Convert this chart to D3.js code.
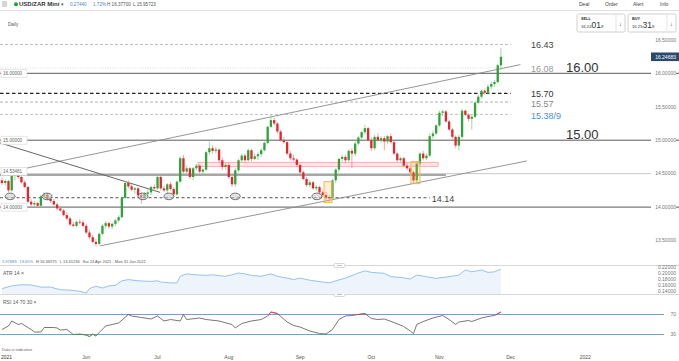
<!DOCTYPE html>
<meta charset="utf-8">
<style>
body { margin: 0; background: #fff; }
svg { display: block; font-family: "Liberation Sans", Arial, sans-serif; }
.small { font-size: 5px; fill: #555; }
.ytick { font-size: 5px; fill: #777; }
</style>
<svg width="679" height="361"></svg>
<script src="https://cdn.jsdelivr.net/npm/d3@7"></script>
<script>

// ---- data ----
const firstDay = "2021-04-26";   // first visible candle, trading days only
const nDays = 201;               // visible span runs to 31 Jan 2022

// open, high, low, close per trading day
const candles = [
[14.40,14.44,14.33,14.36],[14.36,14.42,14.32,14.39],[14.39,14.41,14.22,14.25],[14.25,14.50,14.23,14.47],[14.47,14.52,14.40,14.49],
[14.49,14.52,14.42,14.45],[14.45,14.48,14.35,14.37],[14.37,14.40,14.28,14.30],[14.30,14.32,14.06,14.08],[14.08,14.12,14.01,14.04],
[14.04,14.09,14.00,14.06],[14.06,14.08,14.00,14.02],[14.02,14.18,14.00,14.16],[14.16,14.22,14.12,14.19],[14.19,14.21,14.10,14.12],
[14.12,14.16,14.06,14.09],[14.09,14.12,14.02,14.04],[14.04,14.07,13.95,13.98],[13.98,14.01,13.93,13.95],[13.95,13.97,13.86,13.88],
[13.88,13.92,13.80,13.83],[13.83,13.86,13.72,13.74],[13.74,13.78,13.70,13.72],[13.72,13.80,13.70,13.78],[13.78,13.82,13.74,13.77],
[13.77,13.80,13.70,13.72],[13.72,13.75,13.60,13.62],[13.62,13.66,13.52,13.55],[13.55,13.58,13.46,13.48],[13.48,13.52,13.41,13.45],
[13.45,13.62,13.43,13.60],[13.60,13.75,13.58,13.72],[13.72,13.79,13.68,13.76],[13.76,13.78,13.68,13.71],[13.71,13.77,13.67,13.75],
[13.75,13.82,13.72,13.80],[13.80,13.88,13.77,13.85],[13.85,14.17,13.83,14.14],[14.14,14.40,14.12,14.36],[14.36,14.40,14.28,14.31],
[14.31,14.34,14.24,14.26],[14.26,14.30,14.20,14.28],[14.28,14.30,14.16,14.18],[14.18,14.22,14.05,14.14],[14.14,14.22,14.12,14.20],
[14.20,14.26,14.16,14.22],[14.22,14.32,14.18,14.30],[14.30,14.34,14.24,14.28],[14.28,14.48,14.26,14.45],[14.45,14.47,14.25,14.28],
[14.28,14.32,14.22,14.25],[14.25,14.36,14.20,14.34],[14.34,14.38,14.25,14.27],[14.27,14.30,14.16,14.19],[14.19,14.40,14.17,14.38],
[14.38,14.76,14.36,14.73],[14.73,14.78,14.50,14.53],[14.53,14.62,14.50,14.58],[14.58,14.60,14.42,14.45],[14.45,14.60,14.40,14.58],
[14.58,14.65,14.55,14.62],[14.62,14.64,14.50,14.53],[14.53,14.58,14.48,14.56],[14.56,14.84,14.54,14.82],[14.82,14.98,14.78,14.88],
[14.88,14.92,14.80,14.84],[14.84,14.90,14.80,14.86],[14.86,14.88,14.66,14.70],[14.70,14.74,14.56,14.60],[14.60,14.66,14.56,14.63],
[14.63,14.66,14.42,14.45],[14.45,14.48,14.30,14.34],[14.34,14.58,14.30,14.55],[14.55,14.72,14.52,14.70],[14.70,14.80,14.66,14.77],
[14.77,14.80,14.66,14.70],[14.70,14.88,14.68,14.85],[14.85,14.87,14.68,14.72],[14.72,14.80,14.70,14.76],[14.76,14.82,14.70,14.79],
[14.79,14.88,14.75,14.85],[14.85,14.98,14.83,14.96],[14.96,15.22,14.94,15.20],[15.20,15.39,15.18,15.30],[15.30,15.33,15.22,15.25],
[15.25,15.27,15.10,15.13],[15.13,15.16,14.98,15.00],[15.00,15.05,14.95,14.97],[14.97,14.99,14.78,14.80],[14.80,14.84,14.70,14.73],
[14.73,14.78,14.68,14.71],[14.71,14.73,14.60,14.63],[14.63,14.65,14.50,14.52],[14.52,14.55,14.40,14.42],[14.42,14.45,14.30,14.33],
[14.33,14.40,14.30,14.37],[14.37,14.39,14.26,14.28],[14.28,14.33,14.24,14.30],[14.30,14.32,14.20,14.22],[14.22,14.25,14.15,14.18],
[14.18,14.22,14.10,14.15],[14.15,14.18,14.08,14.13],[14.13,14.42,14.11,14.40],[14.40,14.58,14.36,14.56],[14.56,14.74,14.52,14.72],
[14.72,14.78,14.68,14.75],[14.75,14.78,14.66,14.70],[14.70,14.86,14.68,14.84],[14.84,14.88,14.58,14.80],[14.80,14.98,14.76,14.95],
[14.95,15.06,14.92,15.04],[15.04,15.14,15.00,15.12],[15.12,15.23,15.08,15.18],[15.18,15.20,14.98,15.00],[15.00,15.04,14.84,14.88],
[14.88,15.08,14.85,15.05],[15.05,15.10,14.98,15.00],[15.00,15.06,14.96,15.03],[15.03,15.06,14.85,14.98],[14.98,15.08,14.94,15.06],
[15.06,15.10,14.95,14.97],[14.97,14.99,14.78,14.80],[14.80,14.82,14.68,14.70],[14.70,14.75,14.66,14.73],[14.73,14.75,14.60,14.62],
[14.62,14.66,14.55,14.58],[14.58,14.60,14.48,14.52],[14.52,14.54,14.36,14.40],[14.40,14.68,14.35,14.65],[14.65,14.82,14.62,14.80],
[14.80,14.84,14.70,14.73],[14.73,14.80,14.70,14.77],[14.77,15.10,14.75,15.06],[15.06,15.14,15.02,15.10],[15.10,15.24,15.08,15.22],
[15.22,15.44,15.20,15.41],[15.41,15.46,15.36,15.43],[15.43,15.45,15.26,15.28],[15.28,15.30,15.14,15.16],[15.16,15.18,15.02,15.05],
[15.05,15.07,14.88,14.92],[14.92,15.08,14.85,15.05],[15.05,15.47,15.02,15.44],[15.44,15.46,15.36,15.38],[15.38,15.40,15.28,15.32],
[15.32,15.38,15.16,15.35],[15.35,15.58,15.33,15.56],[15.56,15.68,15.54,15.65],[15.65,15.76,15.62,15.74],[15.74,15.77,15.68,15.71],
[15.71,15.84,15.68,15.80],[15.80,15.88,15.76,15.84],[15.84,15.90,15.80,15.87],[15.87,16.14,15.85,16.12],[16.12,16.377,16.05,16.247]
];

const lastPrice = 16.24683;

// price axis
const priceTicks = [13.5, 14, 14.5, 15, 15.5, 16, 16.5];
const solidLevels = [16, 15, 14];
const boxedLevels = [16, 15, 14.53481, 14];

// hand-drawn levels: value, label, day where the line stops
const levelValues = [16.43, 16.08, 15.70, 15.57, 15.385, 14.14];
const levelLabels = ["16.43", "16.08", "15.70", "15.57", "15.38/9", "14.14"];
const levelEnds   = [157, 157, 157, 157, 157, 132];
const bigLevels = [16.00, 15.00];
const bigLabels = ["16.00", "15.00"];

// support line under the October low
const supportValue = 14.48, supportEnd = 137;

// trend lines: [day, price] -> [day, price]
const trendLines = [
  [[4.9, 14.555], [160, 16.13]],
  [[30.2, 13.42], [162, 14.69]],
  [[-0.6, 14.96], [48.8, 14.22]]
];
const circleDays = [2.5, 13.9, 43.5, 51.5, 72, 97.2];
const circlePrice = 14.16;
const zoneDays = [60.5, 134.6], zonePrices = [14.61, 14.67];
const boxDays = [[99.4, 101.9], [126.2, 129]];
const boxPrices = [[14.07, 14.38], [14.35, 14.68]];

// month axis
const monthStarts = ["2021-06-01","2021-07-01","2021-08-02","2021-09-01","2021-10-01","2021-11-01","2021-12-01","2022-01-03"];
const monthLabels = ["Jun","Jul","Aug","Sep","Oct","Nov","Dec","2022"];

// ATR(14)
const atrDays = [0,3,6,9,12,15,18,21,24,26,27,29,31,33,35,37,39,42,46,48,49,52,54,55,57,60,63,65,69,71,73,75,77,80,83,85,88,90,92,95,99,101,104,106,110,112,114,118,120,124,126,128,131,134,138,141,143,145,148,150,152,154];
const atrValues = [.148,.157,.161,.160,.153,.153,.144,.143,.139,.133,.148,.156,.150,.157,.159,.174,.178,.174,.172,.174,.170,.167,.167,.189,.197,.194,.192,.194,.189,.194,.200,.197,.192,.189,.197,.189,.183,.178,.183,.176,.170,.167,.177,.183,.200,.207,.202,.199,.188,.184,.180,.193,.188,.182,.188,.193,.210,.204,.210,.202,.204,.213];
const atrTicks = [0.14, 0.16, 0.18, 0.20, 0.22];

// RSI(14)
const rsiDays = [0,2,3,5,6,9,10,12,13,16,17,18,20,22,24,26,27,28,29,30,32,34,36,39,40,43,46,48,50,52,55,56,57,61,63,67,71,72,74,77,80,82,83,85,88,90,92,95,98,100,102,104,106,108,112,114,116,118,121,124,126,127,128,130,133,136,138,140,141,144,145,148,150,152,154];
const rsiValues = [40,47,57,50,52,40,35,35,44,44,43,39,40,30,31,29,26,31,27,34,47,50,53,70,67,64,61,67,57,60,57,70,60,63,60,57,50,43,52,57,60,67,75,72,55,48,45,37,32,31,40,60,67,68,72,62,60,61,54,46,37,32,50,56,63,68,60,50,55,58,56,63,66,68,75];

// ---- drawing ----
const svg = d3.select("svg");
const W = 679;

const fmtDay = d3.timeFormat("%Y-%m-%d");
const days = [];
for (let d = d3.timeParse("%Y-%m-%d")(firstDay); days.length < nDays; d = d3.timeDay.offset(d, 1)) {
  if (d.getDay() !== 0 && d.getDay() !== 6) days.push(fmtDay(d));
}

const x = d3.scaleLinear().domain([0, nDays - 1]).range([2, 650]);
const y = d3.scaleLinear().domain([13.5, 16.5]).range([240.55, 39.85]);
const yAtr = d3.scaleLinear().domain([0.14, 0.22]).range([291, 267]);
const yRsi = d3.scaleLinear().domain([30, 70]).range([334.5, 314.5]);

// header
const hdr = svg.append("g");
[2, 4, 6].forEach(v => hdr.append("line").attr("x1", 2).attr("x2", 7).attr("y1", v).attr("y2", v).attr("stroke", "#888").attr("stroke-width", 0.7));
hdr.append("circle").attr("cx", 16).attr("cy", 4.2).attr("r", 2).attr("fill", "#1aa33a");
hdr.append("text").attr("x", 19).attr("y", 6.3).attr("font-size", 6).attr("font-weight", "bold").attr("fill", "#333").text("USD/ZAR Mini");
hdr.append("text").attr("x", 61).attr("y", 6).attr("font-size", 5).attr("fill", "#555").text("▾");
hdr.append("text").attr("x", 70).attr("y", 6).attr("font-size", 4.6).attr("fill", "#4a86c8").text("0.27440");
hdr.append("text").attr("x", 93).attr("y", 6).attr("font-size", 4.6).attr("fill", "#4a86c8").text("1.72%");
hdr.append("text").attr("x", 107).attr("y", 6).attr("font-size", 4.6).attr("fill", "#555").text("H 16.37700");
hdr.append("text").attr("x", 133).attr("y", 6).attr("font-size", 4.6).attr("fill", "#555").text("L 15.95723");
[["Deal", 579], ["Order", 605], ["Alert", 633], ["Info", 660]].forEach(([t, px]) =>
  hdr.append("text").attr("x", px).attr("y", 6).attr("font-size", 5).attr("fill", "#444").text(t));
hdr.append("line").attr("x1", 0).attr("x2", W).attr("y1", 10.5).attr("y2", 10.5).attr("stroke", "#e2e2e2");
hdr.append("text").attr("x", 8).attr("y", 25.5).attr("font-size", 4.6).attr("fill", "#555").text("Daily");

function quoteBox(x0, label, a, b, c) {
  const g = svg.append("g").attr("transform", `translate(${x0},14)`);
  g.append("rect").attr("width", 48).attr("height", 18).attr("rx", 1.5).attr("fill", "#fff").attr("stroke", "#d0d0d0");
  g.append("line").attr("x1", 39).attr("x2", 39).attr("y1", 0).attr("y2", 18).attr("stroke", "#e4e4e4");
  g.append("text").attr("x", 4).attr("y", 5.5).attr("font-size", 3.8).attr("font-weight", "bold").attr("fill", "#333").text(label);
  const t = g.append("text").attr("x", 4).attr("y", 14).attr("fill", "#333");
  t.append("tspan").attr("font-size", 4.2).text(a);
  t.append("tspan").attr("font-size", 8.5).text(b);
  t.append("tspan").attr("font-size", 4.2).text(c);
  g.append("text").attr("x", 43.5).attr("y", 12).attr("font-size", 6).attr("text-anchor", "middle").attr("fill", "#444").text("↓");
}
quoteBox(577, "SELL", "16.24", "01", "9");
quoteBox(628, "BUY", "16.25", "31", "9");

// main panel grid / levels
const main = svg.append("g");
main.append("line").attr("x1", 0).attr("x2", 651).attr("y1", y(14.5)).attr("y2", y(14.5)).attr("stroke", "#c8c8c8").attr("stroke-width", 1);
main.append("line").attr("x1", x(0) - 2).attr("x2", x(supportEnd)).attr("y1", y(supportValue)).attr("y2", y(supportValue))
  .attr("stroke", "#8a8a8a").attr("stroke-width", 1.6);
solidLevels.forEach(v => {
  main.append("line").attr("x1", 0).attr("x2", 651).attr("y1", y(v)).attr("y2", y(v)).attr("stroke", "#5a5a5a").attr("stroke-width", 1);
  main.append("line").attr("x1", 676).attr("x2", W).attr("y1", y(v)).attr("y2", y(v)).attr("stroke", "#5a5a5a").attr("stroke-width", 1);
});

const levelStyle = [
  {stroke: "#b5b5b5", dash: "3,2", w: 0.9, color: "#444", dy: 3.3},
  {stroke: "#d6d6d6", dash: "1,1.5", w: 0.8, color: "#9a9a9a", dy: 3.6},
  {stroke: "#222", dash: "3.5,2.5", w: 1.3, color: "#333", dy: 3.4},
  {stroke: "#a8a8a8", dash: "3,2", w: 0.9, color: "#888", dy: 4.6},
  {stroke: "#bbbbbb", dash: "3,2", w: 0.9, color: "#4a8fd6", dy: 4.2},
  {stroke: "#555", dash: "3,2.5", w: 1, color: "#444", dy: 4.2}
];
levelValues.forEach((v, i) => {
  const s = levelStyle[i];
  main.append("line").attr("x1", 0).attr("x2", x(levelEnds[i])).attr("y1", y(v)).attr("y2", y(v))
    .attr("stroke", s.stroke).attr("stroke-width", s.w).attr("stroke-dasharray", s.dash);
});

// resistance zone
main.append("rect").attr("x", x(zoneDays[0])).attr("width", x(zoneDays[1]) - x(zoneDays[0]))
  .attr("y", y(zonePrices[1])).attr("height", y(zonePrices[0]) - y(zonePrices[1]))
  .attr("fill", "rgba(255,120,120,0.18)").attr("stroke", "rgba(235,90,90,0.6)").attr("stroke-width", 0.7);

// trend lines
trendLines.forEach(([a, b], i) => main.append("line")
  .attr("x1", x(a[0])).attr("y1", y(a[1])).attr("x2", x(b[0])).attr("y2", y(b[1]))
  .attr("stroke", i === 2 ? "#666" : "#8a8a8a").attr("stroke-width", i === 2 ? 1 : 0.9));

// candles
const cg = svg.append("g");
const cw = 2.3;
cg.selectAll(".wick").data(candles).join("line")
  .attr("x1", (d, i) => x(i)).attr("x2", (d, i) => x(i))
  .attr("y1", d => y(d[1])).attr("y2", d => y(d[2]))
  .attr("stroke", d => d[3] >= d[0] ? "#86cf86" : "#f08c8c").attr("stroke-width", 0.8);
cg.selectAll(".body").data(candles).join("rect")
  .attr("x", (d, i) => x(i) - cw / 2).attr("width", cw)
  .attr("y", d => y(Math.max(d[0], d[3])))
  .attr("height", d => Math.max(0.8, Math.abs(y(d[0]) - y(d[3]))))
  .attr("fill", d => d[3] >= d[0] ? "#2fa23a" : "#e2262c");

// circles on 14.14
svg.append("g").selectAll("ellipse").data(circleDays).join("ellipse")
  .attr("cx", d => x(d)).attr("cy", y(circlePrice)).attr("rx", 5).attr("ry", 3.3)
  .attr("fill", "rgba(200,200,200,0.55)").attr("stroke", "#444").attr("stroke-width", 0.7);

// orange boxes
svg.append("g").selectAll("rect").data(boxDays).join("rect")
  .attr("x", d => x(d[0])).attr("width", d => x(d[1]) - x(d[0]))
  .attr("y", (d, i) => y(boxPrices[i][1])).attr("height", (d, i) => y(boxPrices[i][0]) - y(boxPrices[i][1]))
  .attr("fill", "rgba(248,180,70,0.22)").attr("stroke", "#f4b24c").attr("stroke-width", 0.9);

// level labels
levelValues.forEach((v, i) => {
  const lx = i === 5 ? x(levelEnds[i]) + 2 : 531;
  svg.append("text").attr("x", lx).attr("y", y(v) + levelStyle[i].dy).attr("font-size", 9)
    .attr("fill", levelStyle[i].color).text(levelLabels[i]);
});
bigLevels.forEach((v, i) => svg.append("text").attr("x", 566).attr("y", y(v) - 1).attr("font-size", 13)
  .attr("fill", "#333").text(bigLabels[i]));

// left boxed values
boxedLevels.forEach(v => {
  const g = svg.append("g").attr("transform", `translate(1,${y(v) - 4})`);
  g.append("rect").attr("width", 26).attr("height", 8).attr("fill", "#fff").attr("stroke", "#d5d5d5").attr("stroke-width", 0.6);
  g.append("text").attr("x", 2).attr("y", 5.7).attr("font-size", 4.6).attr("fill", "#666").text(v.toFixed(5));
});

// right price axis
svg.append("g").selectAll("text").data(priceTicks).join("text")
  .attr("class", "ytick").attr("x", 676).attr("y", d => y(d) + 1.8).attr("text-anchor", "end")
  .text(d => d.toFixed(5));
svg.append("rect").attr("x", 651).attr("y", y(lastPrice) - 4.3).attr("width", 28).attr("height", 8.6).attr("fill", "#2d4a6c");
svg.append("text").attr("x", 676).attr("y", y(lastPrice) + 1.8).attr("text-anchor", "end")
  .attr("font-size", 5).attr("fill", "#fff").text(lastPrice.toFixed(5));

// info line
const info = svg.append("text").attr("x", 2).attr("y", 262.5).attr("font-size", 4);
info.append("tspan").attr("fill", "#4a86c8").text("1.97683");
info.append("tspan").attr("dx", 3).attr("fill", "#4a86c8").text("13.65%");
info.append("tspan").attr("dx", 3).attr("fill", "#555").text("H 16.36975");
info.append("tspan").attr("dx", 3).attr("fill", "#555").text("L 13.41236");
info.append("tspan").attr("dx", 3).attr("fill", "#555").text("Sat 24 Apr 2021 - Mon 31 Jan 2022");

// panel separators with handles
[265.5, 294.5].forEach(v => {
  svg.append("line").attr("x1", 0).attr("x2", W).attr("y1", v).attr("y2", v).attr("stroke", "#d8d8d8");
  svg.append("rect").attr("x", 334).attr("y", v - 2).attr("width", 11).attr("height", 4).attr("rx", 1.5)
    .attr("fill", "#fff").attr("stroke", "#bbb").attr("stroke-width", 0.6);
  svg.append("line").attr("x1", 337).attr("x2", 342).attr("y1", v).attr("y2", v).attr("stroke", "#999").attr("stroke-width", 0.6);
});

// ATR
const atrPts = atrDays.map((d, i) => [d, atrValues[i]]);
svg.append("path").datum(atrPts)
  .attr("d", d3.area().x(d => x(d[0])).y0(294).y1(d => yAtr(d[1])))
  .attr("fill", "#eef4fc");
svg.append("path").datum(atrPts)
  .attr("d", d3.line().x(d => x(d[0])).y(d => yAtr(d[1])))
  .attr("fill", "none").attr("stroke", "#8dbbe8").attr("stroke-width", 0.9);
svg.append("text").attr("class", "small").attr("x", 3).attr("y", 274.5).text("ATR  14  ×");
svg.append("g").selectAll("text").data(atrTicks).join("text")
  .attr("class", "ytick").attr("x", 676).attr("y", d => yAtr(d) + 1.8).attr("text-anchor", "end")
  .text(d => d.toFixed(5));

// RSI
svg.append("text").attr("class", "small").attr("x", 3).attr("y", 303.5).text("RSI  14  70  30  ×");
[70, 30].forEach(v => {
  svg.append("line").attr("x1", 0).attr("x2", 664).attr("y1", yRsi(v)).attr("y2", yRsi(v))
    .attr("stroke", "#7f9dbf").attr("stroke-width", 1.2);
  svg.append("text").attr("class", "ytick").attr("x", 676).attr("y", yRsi(v) + 1.8).attr("text-anchor", "end").text(v);
});
const rsiPts = rsiDays.map((d, i) => [d, rsiValues[i]]);
const rsiLine = d3.line().x(d => x(d[0])).y(d => yRsi(d[1]));
const defs = svg.append("defs");
defs.append("clipPath").attr("id", "above").append("rect").attr("x", 0).attr("y", 290).attr("width", W).attr("height", yRsi(70) - 290);
defs.append("clipPath").attr("id", "below").append("rect").attr("x", 0).attr("y", yRsi(30)).attr("width", W).attr("height", 20);
svg.append("path").datum(rsiPts).attr("d", rsiLine).attr("fill", "none").attr("stroke", "#555").attr("stroke-width", 0.8);
svg.append("path").datum(rsiPts).attr("d", rsiLine).attr("fill", "none").attr("stroke", "#e84c4c").attr("stroke-width", 1).attr("clip-path", "url(#above)");
svg.append("path").datum(rsiPts).attr("d", rsiLine).attr("fill", "none").attr("stroke", "#46b046").attr("stroke-width", 1).attr("clip-path", "url(#below)");

// footer + time axis
svg.append("text").attr("x", 2).attr("y", 351).attr("font-size", 4).attr("fill", "#666").text("Data is indicative");
svg.append("text").attr("x", 1).attr("y", 359).attr("font-size", 5).attr("fill", "#333").text("2021");
svg.append("g").selectAll("text").data(monthStarts).join("text")
  .attr("x", d => x(days.indexOf(d))).attr("y", 359).attr("text-anchor", "middle")
  .attr("font-size", 5).attr("fill", "#555").text((d, i) => monthLabels[i]);

</script>
